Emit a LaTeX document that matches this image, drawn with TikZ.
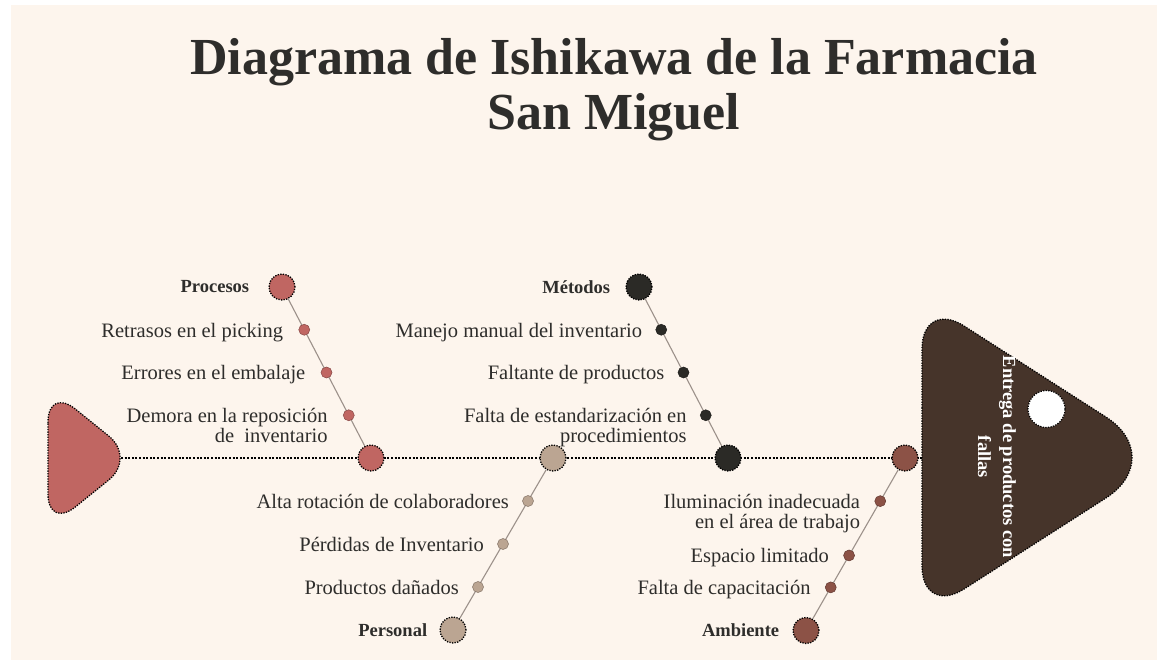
\documentclass[tikz,border=0pt]{standalone}
\usepackage{fontspec}
\setmainfont{Liberation Serif}
\usetikzlibrary{calc,positioning}

\definecolor{paper}{HTML}{FDF5ED}
\definecolor{procred}{HTML}{C06662}
\definecolor{metdark}{HTML}{2B2A26}
\definecolor{perstan}{HTML}{BBA592}
\definecolor{ambbrown}{HTML}{8C5246}
\definecolor{headbrown}{HTML}{46342A}
\definecolor{inkgray}{HTML}{2E2D2B}
\definecolor{bonegray}{HTML}{9C918A}

\tikzset{
  dotline/.style={dash pattern=on 1.3pt off 1.3pt},
  bignode/.style={circle, minimum size=26pt, inner sep=0pt, draw=black, line width=1.3pt, dotline, fill=#1},
  smallnode/.style={circle, minimum size=11pt, inner sep=0pt, draw=#1!70!black, line width=0.5pt, fill=#1},
  bone/.style={draw=bonegray, line width=1.1pt},
  cause/.style={font=\fontsize{20.5}{19.5}\selectfont, text=inkgray, align=right, anchor=base east, inner sep=0pt},
  category/.style={font=\fontsize{18.5}{20}\selectfont\bfseries, text=inkgray, inner sep=0pt},
}

\begin{document}
\begin{tikzpicture}[x=1pt,y=-1pt]
  %%%%% START %%%%%
  \useasboundingbox (0,0) rectangle (1157,660);
  \fill[paper] (11,5) rectangle (1157,660);

  % title
  \node[font=\fontsize{52}{55}\selectfont\bfseries, text=inkgray, align=center, anchor=base] (title) at (614,130)
    {Diagrama de Ishikawa de la Farmacia\\San Miguel};

  % tail and head
  \draw[fill=procred, line width=1.3pt, dotline, rounded corners=35pt]
    (48,458) -- (48,387) -- (136,458) -- (48,529) -- cycle;
  \draw[fill=headbrown, line width=1.3pt, dotline, rounded corners=50pt]
    (922,458) -- (922,299) [rounded corners=75pt] -- (1169,457.5) [rounded corners=50pt] -- (922,616) -- cycle;
  \node[circle, minimum size=37pt, inner sep=0pt, fill=white, draw=black, line width=1.2pt, dotline] (eye) at (1046.5,409) {};
  \node[font=\fontsize{18.5}{25}\selectfont\bfseries, text=white, align=center, rotate=-90] (effect) at (997,457)
    {Entrega de productos con\\fallas};

  % spine
  \coordinate (tailtip) at (121,458);
  \coordinate (headin) at (922,458);
  \draw[line width=2.2pt, dash pattern=on 2pt off 1.6pt] (tailtip) -- (headin);

  \node[bignode=procred] (procS) at (371,458) {};
  \node[bignode=perstan] (persS) at (553,458) {};
  \node[bignode=metdark] (metS) at (728,458) {};
  \node[bignode=ambbrown] (ambS) at (905,458) {};

  % Procesos
  \node[bignode=procred] (proc) at (282,287) {};
  \node[category, left=19pt of proc] (procL) {Procesos};
  \draw[bone] (proc) -- (procS);
  \node[smallnode=procred] (p1) at ($(proc)!0.25!(procS)$) {};
  \node[smallnode=procred] (p2) at ($(proc)!0.5!(procS)$) {};
  \node[smallnode=procred] (p3) at ($(proc)!0.75!(procS)$) {};
  \node[cause] (p1L) at ([xshift=-21pt,yshift=-7.5pt]p1.center) {Retrasos en el picking};
  \node[cause] (p2L) at ([xshift=-21pt,yshift=-7.5pt]p2.center) {Errores en el embalaje};
  \node[cause] (p3L) at ([xshift=-21pt,yshift=-27pt]p3.center) {Demora en la reposición\\de\ \ inventario};

  % Metodos
  \node[bignode=metdark] (met) at (639,287) {};
  \node[category, left=15pt of met] (metL) {Métodos};
  \draw[bone] (met) -- (metS);
  \node[smallnode=metdark] (m1) at ($(met)!0.25!(metS)$) {};
  \node[smallnode=metdark] (m2) at ($(met)!0.5!(metS)$) {};
  \node[smallnode=metdark] (m3) at ($(met)!0.75!(metS)$) {};
  \node[cause] (m1L) at ([xshift=-19pt,yshift=-7.5pt]m1.center) {Manejo manual del inventario};
  \node[cause] (m2L) at ([xshift=-19pt,yshift=-7.5pt]m2.center) {Faltante de productos};
  \node[cause] (m3L) at ([xshift=-19pt,yshift=-27pt]m3.center) {Falta de estandarización en\\procedimientos};

  % Personal
  \node[bignode=perstan] (pers) at (453,630) {};
  \node[category, left=12pt of pers] (persL) {Personal};
  \draw[bone] (persS) -- (pers);
  \node[smallnode=perstan] (r1) at ($(persS)!0.25!(pers)$) {};
  \node[smallnode=perstan] (r2) at ($(persS)!0.5!(pers)$) {};
  \node[smallnode=perstan] (r3) at ($(persS)!0.75!(pers)$) {};
  \node[cause] (r1L) at ([xshift=-19pt,yshift=-7.5pt]r1.center) {Alta rotación de colaboradores};
  \node[cause] (r2L) at ([xshift=-19pt,yshift=-7.5pt]r2.center) {Pérdidas de Inventario};
  \node[cause] (r3L) at ([xshift=-19pt,yshift=-7.5pt]r3.center) {Productos dañados};

  % Ambiente
  \node[bignode=ambbrown] (amb) at (806,630.5) {};
  \node[category, left=13pt of amb] (ambL) {Ambiente};
  \draw[bone] (ambS) -- (amb);
  \node[smallnode=ambbrown] (a1) at ($(ambS)!0.25!(amb)$) {};
  \node[smallnode=ambbrown] (a2) at ($(ambS)!0.565!(amb)$) {};
  \node[smallnode=ambbrown] (a3) at ($(ambS)!0.75!(amb)$) {};
  \node[cause] (a1L) at ([xshift=-20pt,yshift=-27pt]a1.center) {Iluminación inadecuada\\en el área de trabajo};
  \node[cause] (a2L) at ([xshift=-20pt,yshift=-7.5pt]a2.center) {Espacio limitado};
  \node[cause] (a3L) at ([xshift=-20pt,yshift=-7.5pt]a3.center) {Falta de capacitación};
  %%%%% END %%%%%
\end{tikzpicture}
\end{document}
